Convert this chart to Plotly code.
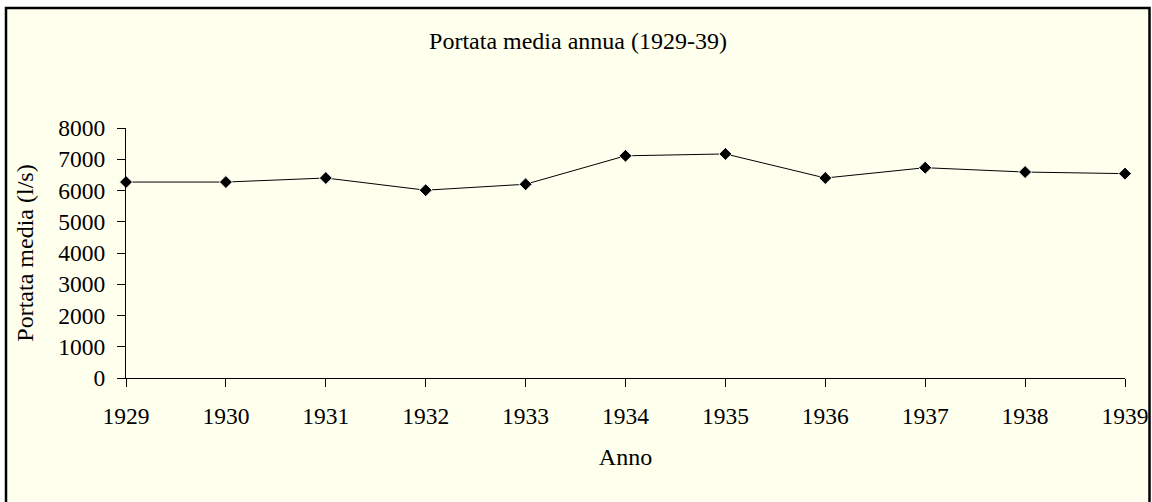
import plotly.graph_objects as go

years = [1929, 1930, 1931, 1932, 1933, 1934, 1935, 1936, 1937, 1938, 1939]
portata = [6270, 6270, 6400, 6010, 6200, 7110, 7170, 6400, 6730, 6590, 6540]

title_text = "Portata media annua (1929-39)"
x_title = "Anno"
y_title = "Portata media (l/s)"

W, H = 1152, 502
L, R, T, B = 126, 27, 128, 124
PW, PH = W - L - R, H - T - B


def px_x(p):
    return (p - L) / PW


def px_y(p):
    return (H - B - p) / PH


FONT = "Liberation Serif, Times New Roman, serif"
BG = "rgb(255,255,238)"
TICK_SIZE = 23.5
TITLE_SIZE = 24

fig = go.Figure()
fig.add_trace(go.Scatter(
    x=years, y=portata, mode="lines+markers",
    line=dict(color="black", width=1),
    marker=dict(symbol="diamond", size=10, color="black",
                line=dict(color="white", width=1)),
    cliponaxis=False, showlegend=False,
))

fig.add_shape(type="rect", xref="paper", yref="paper",
              x0=px_x(6), x1=px_x(1149.5), y0=px_y(530), y1=px_y(8),
              fillcolor=BG, line=dict(color="black", width=2.5), layer="below")

fig.update_layout(
    width=W, height=H,
    margin=dict(l=L, r=R, t=T, b=B, autoexpand=False),
    paper_bgcolor="white",
    plot_bgcolor="rgba(0,0,0,0)",
    font=dict(family=FONT, size=TICK_SIZE, color="black"),
    title=dict(text=title_text, x=578 / W, xref="container", xanchor="center",
               y=1 - 41 / H, yref="container", yanchor="middle",
               font=dict(family=FONT, size=TITLE_SIZE, color="black")),
    xaxis=dict(
        range=[1929, 1939], tick0=1929, dtick=1, showgrid=False, zeroline=False,
        showline=True, linecolor="black", linewidth=1, automargin=False,
        ticks="outside", ticklen=8, tickcolor="black", tickwidth=1,
        ticklabelstandoff=9,
        tickfont=dict(family=FONT, size=TICK_SIZE, color="black"),
        title=dict(text=x_title, standoff=19, font=dict(family=FONT, size=TITLE_SIZE, color="black")),
    ),
    yaxis=dict(
        range=[0, 8000], tick0=0, dtick=1000, showgrid=False, zeroline=False,
        showline=True, linecolor="black", linewidth=1, automargin=False,
        ticks="outside", ticklen=8, tickcolor="black", tickwidth=1,
        ticklabelstandoff=7,
        tickfont=dict(family=FONT, size=TICK_SIZE, color="black"),
        title=dict(text=y_title, standoff=17, font=dict(family=FONT, size=TITLE_SIZE, color="black")),
    ),
)

fig.write_html(
    "out.html",
    config={"displayModeBar": False},
    post_script="document.body.style.margin='0';document.body.style.overflow='hidden';",
)
